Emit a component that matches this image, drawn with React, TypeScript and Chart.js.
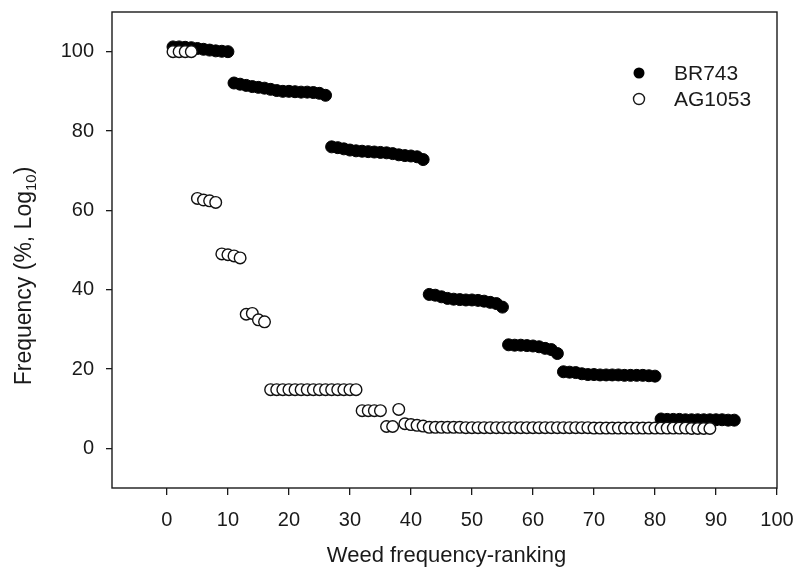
import React, { useEffect, useRef } from "react";
import { Chart, registerables } from "chart.js";

Chart.register(...registerables);

// Weed frequency-ranking positions and frequencies for each cultivar
const br743Rank = [
  1, 2, 3, 4, 5, 6, 7, 8, 9, 10,
  11, 12, 13, 14, 15, 16, 17, 18, 19, 20, 21, 22, 23, 24, 25, 26,
  27, 28, 29, 30, 31, 32, 33, 34, 35, 36, 37, 38, 39, 40, 41, 42,
  43, 44, 45, 46, 47, 48, 49, 50, 51, 52, 53, 54, 55,
  56, 57, 58, 59, 60, 61, 62, 63, 64,
  65, 66, 67, 68, 69, 70, 71, 72, 73, 74, 75, 76, 77, 78, 79, 80,
  81, 82, 83, 84, 85, 86, 87, 88, 89, 90, 91, 92, 93,
];
const br743Freq = [
  101.2, 101.2, 101.1, 101.0, 100.8, 100.6, 100.4, 100.2, 100.1, 100.0,
  92.1, 91.8, 91.5, 91.2, 91.0, 90.8, 90.5, 90.2, 90.0, 90.0, 89.9, 89.8, 89.8, 89.7, 89.5, 89.0,
  76.0, 75.8, 75.5, 75.2, 75.0, 74.9, 74.8, 74.7, 74.6, 74.5, 74.3, 74.0, 73.8, 73.7, 73.5, 72.8,
  38.8, 38.6, 38.2, 37.8, 37.6, 37.5, 37.4, 37.4, 37.3, 37.1, 36.8, 36.5, 35.6,
  26.1, 26.0, 26.0, 25.9, 25.8, 25.6, 25.2, 24.9, 23.9,
  19.3, 19.2, 19.1, 18.8, 18.6, 18.6, 18.5, 18.5, 18.5, 18.5, 18.4, 18.4, 18.4, 18.4, 18.3, 18.2,
  7.4, 7.3, 7.3, 7.3, 7.2, 7.2, 7.2, 7.2, 7.2, 7.2, 7.2, 7.1, 7.1,
];

const ag1053Rank = [
  1, 2, 3, 4,
  5, 6, 7, 8,
  9, 10, 11, 12,
  13, 14, 15, 16,
  17, 18, 19, 20, 21, 22, 23, 24, 25, 26, 27, 28, 29, 30, 31,
  32, 33, 34, 35,
  36, 37, 38,
  39, 40, 41, 42,
  43, 44, 45, 46, 47, 48, 49, 50, 51, 52, 53, 54, 55, 56, 57, 58, 59, 60,
  61, 62, 63, 64, 65, 66, 67, 68, 69, 70, 71, 72, 73, 74, 75, 76, 77, 78,
  79, 80, 81, 82, 83, 84, 85, 86, 87, 88, 89,
];
const ag1053Freq = [
  100.0, 100.0, 100.0, 100.0,
  63.0, 62.6, 62.4, 62.0,
  49.0, 48.8, 48.5, 48.0,
  33.8, 34.0, 32.4, 31.9,
  14.8, 14.8, 14.8, 14.8, 14.8, 14.8, 14.8, 14.8, 14.8, 14.8, 14.8, 14.8, 14.8, 14.8, 14.8,
  9.5, 9.5, 9.5, 9.5,
  5.5, 5.5, 9.8,
  6.2, 6.0, 5.8, 5.6,
  5.3, 5.3, 5.3, 5.3, 5.3, 5.3, 5.2, 5.2, 5.2, 5.2, 5.2, 5.2, 5.2, 5.2, 5.2, 5.2, 5.2, 5.2,
  5.2, 5.2, 5.2, 5.2, 5.2, 5.2, 5.2, 5.2, 5.2, 5.1, 5.1, 5.1, 5.1, 5.1, 5.1, 5.1, 5.1, 5.1,
  5.1, 5.1, 5.1, 5.1, 5.1, 5.1, 5.1, 5.0, 5.0, 5.0, 5.0,
];

const xTickValues = [0, 10, 20, 30, 40, 50, 60, 70, 80, 90, 100];
const yTickValues = [0, 20, 40, 60, 80, 100];

const seriesNames = ["BR743", "AG1053"];
const xTitle = "Weed frequency-ranking";
const yTitleMain = "Frequency (%, Log";
const yTitleSub = "10";
const yTitleEnd = ")";

const FONT = '"Liberation Sans", Arial, sans-serif';
const INK = "#1a1a1a";

// scales keep their own label overhang out of the layout; the frame is fixed by layout padding
const noScalePadding = (s: any) => {
  s.paddingTop = 0;
  s.paddingBottom = 0;
  s.paddingLeft = 0;
  s.paddingRight = 0;
};

const framePlugin = {
  id: "frame",
  afterDraw(chart: any) {
    const { ctx, chartArea } = chart;
    const { left, right, top, bottom } = chartArea;
    ctx.save();
    // plot frame
    ctx.strokeStyle = INK;
    ctx.lineWidth = 1.4;
    ctx.strokeRect(left, top, right - left, bottom - top);

    // x axis title
    ctx.fillStyle = INK;
    ctx.font = `22px ${FONT}`;
    ctx.textAlign = "center";
    ctx.textBaseline = "middle";
    ctx.fillText(xTitle, (left + right) / 2 + 2, 556);

    // y axis title with subscript
    ctx.translate(23, 276);
    ctx.rotate(-Math.PI / 2);
    ctx.textBaseline = "alphabetic";
    ctx.textAlign = "left";
    const mainFont = `23px ${FONT}`;
    const subFont = `15px ${FONT}`;
    ctx.font = mainFont;
    const w1 = ctx.measureText(yTitleMain).width;
    const w3 = ctx.measureText(yTitleEnd).width;
    ctx.font = subFont;
    const w2 = ctx.measureText(yTitleSub).width;
    const total = w1 + w2 + w3;
    let x = -total / 2;
    const base = 8;
    ctx.font = mainFont;
    ctx.fillText(yTitleMain, x, base);
    x += w1;
    ctx.font = subFont;
    ctx.fillText(yTitleSub, x, base + 5);
    x += w2;
    ctx.font = mainFont;
    ctx.fillText(yTitleEnd, x, base);
    ctx.restore();

    // legend
    ctx.save();
    const lx = 639;
    const rows = [73, 99];
    ctx.font = `21px ${FONT}`;
    ctx.textBaseline = "middle";
    ctx.textAlign = "left";
    rows.forEach((ly, i) => {
      ctx.beginPath();
      ctx.arc(lx, ly, 5.5, 0, Math.PI * 2);
      if (i === 0) {
        ctx.fillStyle = "#000";
        ctx.fill();
      } else {
        ctx.fillStyle = "#fff";
        ctx.fill();
        ctx.lineWidth = 1.4;
        ctx.strokeStyle = INK;
        ctx.stroke();
      }
      ctx.fillStyle = INK;
      ctx.fillText(seriesNames[i], 674, ly + 1);
    });
    ctx.restore();
  },
};

export default function App() {
  const canvasRef = useRef<HTMLCanvasElement | null>(null);

  useEffect(() => {
    const canvas = canvasRef.current;
    if (!canvas) return;
    const chart = new Chart(canvas, {
      type: "scatter",
      data: {
        datasets: [
          {
            label: seriesNames[0],
            data: br743Rank.map((r, i) => ({ x: r, y: br743Freq[i] })),
            pointRadius: 6,
            pointBackgroundColor: "#000",
            pointBorderColor: "#000",
            pointBorderWidth: 1,
            order: 2,
          },
          {
            label: seriesNames[1],
            data: ag1053Rank.map((r, i) => ({ x: r, y: ag1053Freq[i] })),
            pointRadius: 5.8,
            pointBackgroundColor: "#fff",
            pointBorderColor: "#111",
            pointBorderWidth: 1.4,
            order: 1,
          },
        ],
      },
      options: {
        responsive: false,
        animation: false,
        devicePixelRatio: 1,
        layout: { padding: { left: 0, top: 12, right: 22, bottom: 0 } },
        plugins: {
          legend: { display: false },
          tooltip: { enabled: false },
        },
        scales: {
          x: {
            type: "linear",
            min: -9,
            max: 100,
            afterBuildTicks: (s: any) => {
              s.ticks = xTickValues.map((v) => ({ value: v }));
            },
            afterFit: (s: any) => {
              s.height = 85;
              noScalePadding(s);
            },
            border: { display: false },
            grid: {
              display: true,
              drawOnChartArea: false,
              drawTicks: true,
              tickLength: 7,
              color: INK,
              lineWidth: 1.3,
            },
            ticks: {
              font: { family: FONT, size: 20 },
              color: INK,
              padding: 13,
              maxRotation: 0,
              autoSkip: false,
            },
          },
          y: {
            type: "linear",
            min: -10,
            max: 110,
            afterBuildTicks: (s: any) => {
              s.ticks = yTickValues.map((v) => ({ value: v }));
            },
            afterFit: (s: any) => {
              s.width = 112;
              noScalePadding(s);
            },
            border: { display: false },
            grid: {
              display: true,
              drawOnChartArea: false,
              drawTicks: true,
              tickLength: 6,
              color: INK,
              lineWidth: 1.3,
            },
            ticks: {
              font: { family: FONT, size: 20 },
              color: INK,
              padding: 12,
              autoSkip: false,
            },
          },
        },
      },
      plugins: [framePlugin],
    });
    return () => chart.destroy();
  }, []);

  return (
    <div style={{ position: "fixed", left: 0, top: 0, width: 799, height: 573, background: "#fff" }}>
      <canvas ref={canvasRef} width={799} height={573} style={{ width: 799, height: 573 }} />
    </div>
  );
}
